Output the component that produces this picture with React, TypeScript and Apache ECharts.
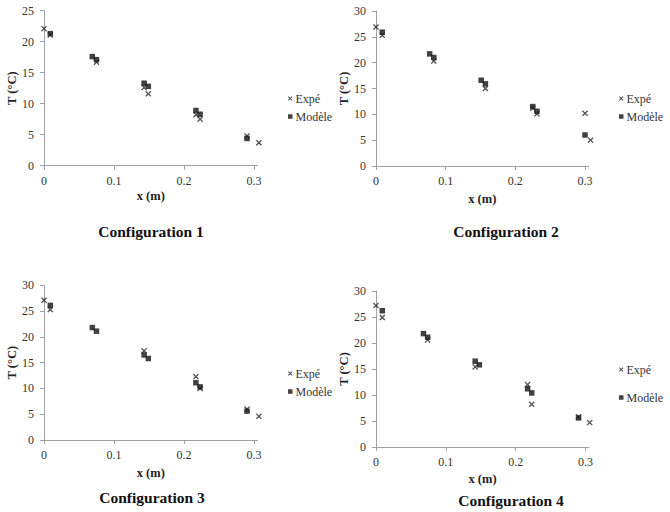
import React, { useEffect, useRef } from "react";
import * as echarts from "echarts";

// ---- Data ----
const titles = ["Configuration 1", "Configuration 2", "Configuration 3", "Configuration 4"];
const xTickValues = [0, 0.1, 0.2, 0.3];
const yMaxes = [25, 30, 30, 30];

const expeX1 = [0, 0.009, 0.075, 0.143, 0.149, 0.217, 0.223, 0.29, 0.307];
const expeT1 = [22.1, 21.1, 16.7, 12.6, 11.6, 8.2, 7.5, 4.8, 3.7];
const modX1 = [0.009, 0.069, 0.075, 0.143, 0.149, 0.217, 0.223, 0.29];
const modT1 = [21.3, 17.6, 17.1, 13.3, 12.8, 8.9, 8.3, 4.4];

const expeX2 = [0, 0.009, 0.083, 0.157, 0.225, 0.231, 0.3, 0.308];
const expeT2 = [26.9, 25.3, 20.3, 15.0, 11.2, 10.1, 10.2, 5.0];
const modX2 = [0.009, 0.077, 0.083, 0.151, 0.157, 0.225, 0.231, 0.3];
const modT2 = [25.9, 21.7, 21.0, 16.6, 15.9, 11.5, 10.6, 6.0];

const expeX3 = [0, 0.009, 0.143, 0.217, 0.223, 0.29, 0.307];
const expeT3 = [27.1, 25.3, 17.3, 12.3, 10.0, 6.0, 4.6];
const modX3 = [0.009, 0.069, 0.075, 0.143, 0.149, 0.217, 0.223, 0.29];
const modT3 = [26.1, 21.8, 21.1, 16.5, 15.8, 11.1, 10.3, 5.6];

const expeX4 = [0, 0.009, 0.074, 0.142, 0.217, 0.223, 0.29, 0.306];
const expeT4 = [27.2, 24.9, 20.6, 15.4, 12.0, 8.2, 5.8, 4.7];
const modX4 = [0.009, 0.068, 0.074, 0.142, 0.148, 0.217, 0.223, 0.29];
const modT4 = [26.2, 21.8, 21.1, 16.5, 15.8, 11.2, 10.4, 5.6];

const expeXs = [expeX1, expeX2, expeX3, expeX4];
const expeTs = [expeT1, expeT2, expeT3, expeT4];
const modXs = [modX1, modX2, modX3, modX4];
const modTs = [modT1, modT2, modT3, modT4];

// ---- Layout ----
const layouts = [
  { left: 44, top: 10.7, width: 213.5, height: 155, legendLeft: 288, legendTop: 92.5, legendGap: 6, titleX: 151, titleY: 231, nameGapX: 24 },
  { left: 376, top: 11, width: 212.5, height: 155, legendLeft: 619, legendTop: 92.5, legendGap: 6, titleX: 506, titleY: 231, nameGapX: 26 },
  { left: 44, top: 285.3, width: 213.5, height: 154.7, legendLeft: 288, legendTop: 367.5, legendGap: 6, titleX: 152, titleY: 497, nameGapX: 26 },
  { left: 376, top: 291, width: 213, height: 156, legendLeft: 619, legendTop: 363.5, legendGap: 16, titleX: 511, titleY: 500, nameGapX: 25 },
];

const FONT = "Liberation Serif";
const CROSS =
  "path://M0,1.5L1.5,0L5,3.5L8.5,0L10,1.5L6.5,5L10,8.5L8.5,10L5,6.5L1.5,10L0,8.5L3.5,5Z";
const AXIS_COLOR = "#a0a0a0";
const TEXT_COLOR = "#333";

export default function App() {
  const ref = useRef<HTMLDivElement>(null);

  useEffect(() => {
    if (!ref.current) return;
    const chart = echarts.init(ref.current, undefined, { renderer: "svg" });

    const grids: any[] = [];
    const xAxes: any[] = [];
    const yAxes: any[] = [];
    const series: any[] = [];
    const legends: any[] = [];
    const graphics: any[] = [];

    layouts.forEach((L, i) => {
      grids.push({
        left: L.left,
        top: L.top,
        width: L.width,
        height: L.height,
        containLabel: false,
        outerBoundsMode: "none",
      });
      xAxes.push({
        type: "value",
        gridIndex: i,
        min: 0,
        max: 0.305,
        name: "x (m)",
        nameLocation: "middle",
        nameGap: L.nameGapX,
        nameTextStyle: { fontFamily: FONT, fontWeight: "bold", fontSize: 12.5, color: "#222" },
        axisLine: { show: true, lineStyle: { color: AXIS_COLOR, width: 1 } },
        axisTick: { show: true, length: 4, customValues: xTickValues, lineStyle: { color: AXIS_COLOR } },
        axisLabel: {
          customValues: xTickValues,
          margin: 9,
          fontFamily: FONT,
          fontSize: 12,
          color: TEXT_COLOR,
          formatter: (v: number) => String(Math.round(v * 10) / 10),
        },
        splitLine: { show: false },
      });
      yAxes.push({
        type: "value",
        gridIndex: i,
        min: 0,
        max: yMaxes[i],
        interval: 5,
        name: "T (°C)",
        nameLocation: "middle",
        nameGap: 23,
        nameRotate: 90,
        nameTextStyle: { fontFamily: FONT, fontWeight: "bold", fontSize: 12.5, color: "#222" },
        axisLine: { show: true, lineStyle: { color: AXIS_COLOR, width: 1 } },
        axisTick: { show: true, length: 4, lineStyle: { color: AXIS_COLOR } },
        axisLabel: { margin: 10, fontFamily: FONT, fontSize: 12, color: TEXT_COLOR },
        splitLine: { show: false },
      });
      series.push({
        name: "Modèle",
        type: "scatter",
        xAxisIndex: i,
        yAxisIndex: i,
        symbol: "rect",
        symbolSize: 5.5,
        clip: false,
        itemStyle: { color: "#111" },
        data: modXs[i].map((x, k) => [x, modTs[i][k]]),
        z: 2,
      });
      series.push({
        name: "Expé",
        type: "scatter",
        xAxisIndex: i,
        yAxisIndex: i,
        symbol: CROSS,
        symbolSize: 6,
        clip: false,
        itemStyle: { color: "#222" },
        data: expeXs[i].map((x, k) => [x, expeTs[i][k]]),
        z: 3,
      });
      legends.push({
        orient: "vertical",
        left: L.legendLeft,
        top: L.legendTop,
        itemWidth: 4.5,
        itemHeight: 4.5,
        itemGap: L.legendGap,
        padding: 0,
        selectedMode: false,
        textStyle: { fontFamily: FONT, fontSize: 12, color: TEXT_COLOR, padding: [0, 0, 0, -2] },
        data: [
          { name: "Expé", icon: CROSS, itemStyle: { color: "#222" } },
          { name: "Modèle", icon: "rect", itemStyle: { color: "#111" } },
        ],
      });
      graphics.push({
        type: "text",
        x: L.titleX,
        y: L.titleY,
        style: {
          text: titles[i],
          font: `bold 15.5px "${FONT}"`,
          fill: "#111",
          align: "center",
          verticalAlign: "middle",
          textAlign: "center",
          textVerticalAlign: "middle",
        },
      });
    });

    chart.setOption({
      animation: false,
      backgroundColor: "#ffffff",
      grid: grids,
      xAxis: xAxes,
      yAxis: yAxes,
      series,
      legend: legends,
      graphic: graphics,
    });

    return () => chart.dispose();
  }, []);

  return (
    <div
      ref={ref}
      style={{ position: "absolute", left: 0, top: 0, width: 670, height: 512, background: "#fff" }}
    />
  );
}
